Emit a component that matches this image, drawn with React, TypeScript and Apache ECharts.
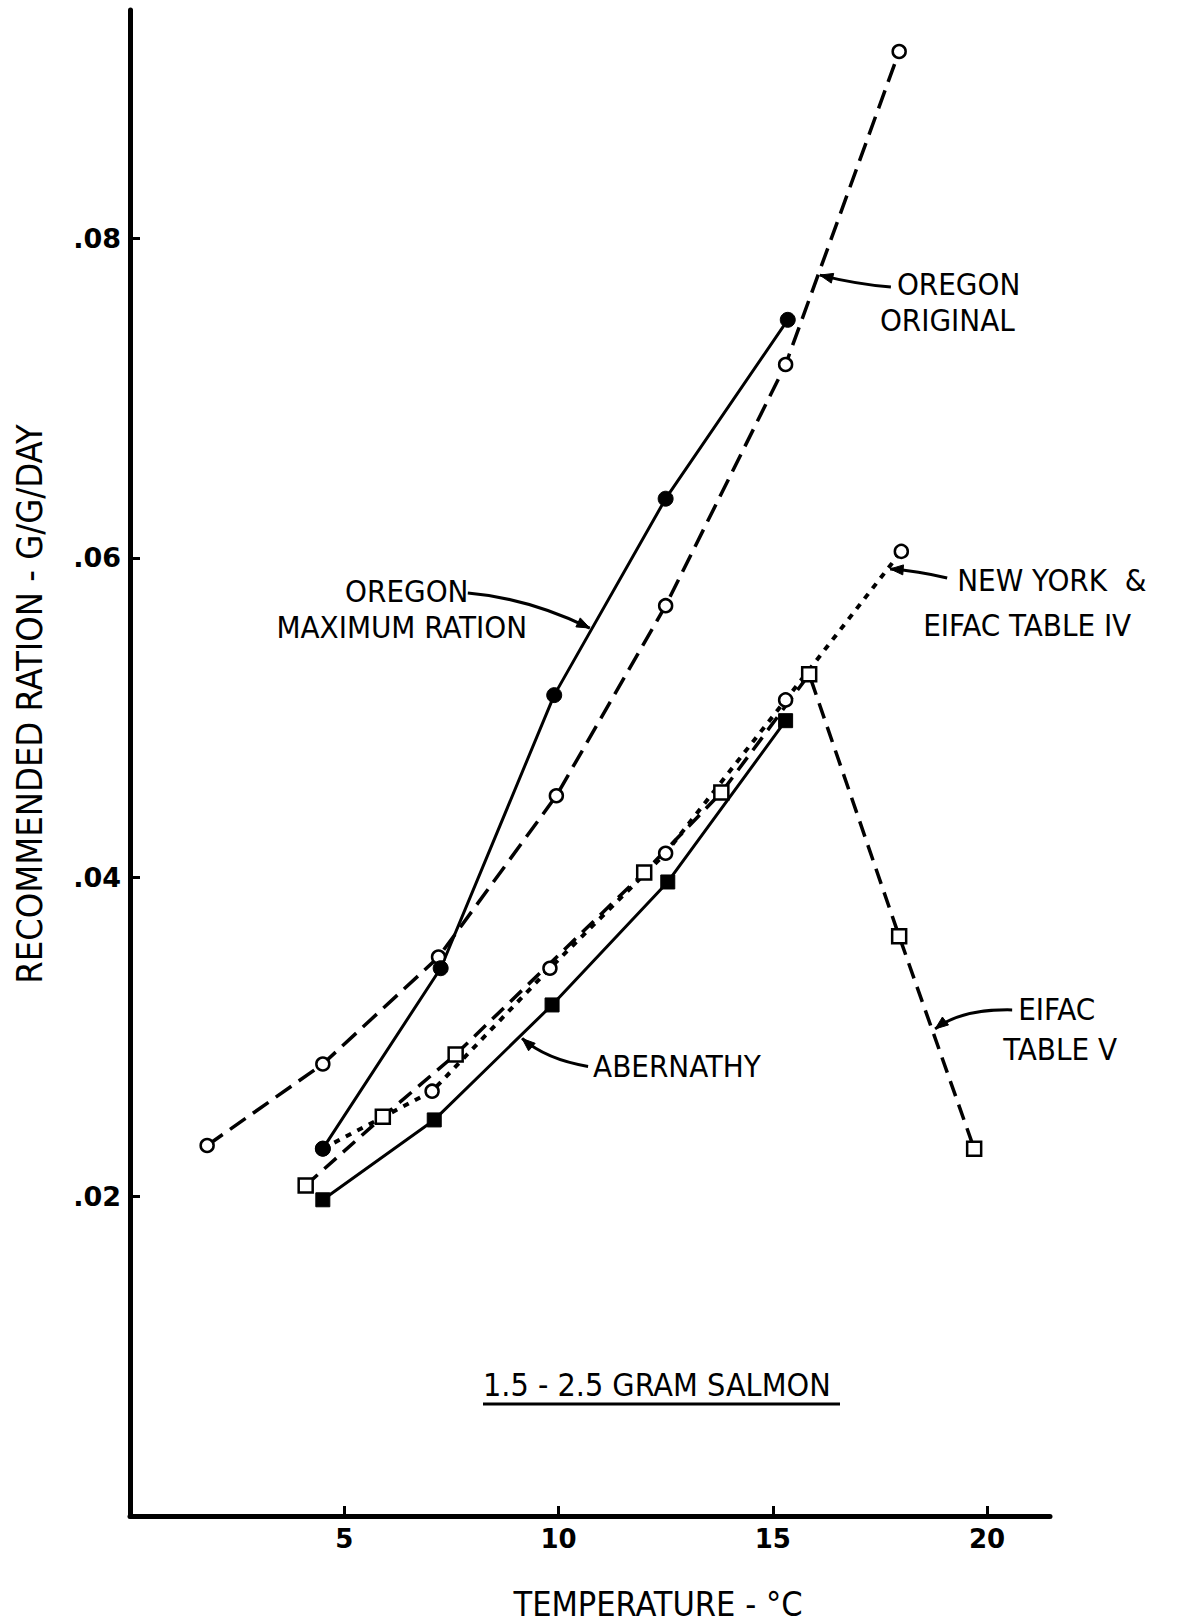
import React, { useEffect, useRef } from "react";
import * as echarts from "echarts";

// Temperature (°C) and recommended ration (g/g/day) for each feeding schedule
const oregonOriginalT = [1.8, 4.5, 7.2, 9.95, 12.5, 15.3, 17.95];
const oregonOriginalR = [0.0232, 0.0283, 0.035, 0.0451, 0.057, 0.0721, 0.0917];

const oregonMaxT = [4.5, 7.25, 9.9, 12.5, 15.35];
const oregonMaxR = [0.023, 0.0343, 0.0514, 0.0637, 0.0749];

const newYorkT = [4.5, 7.05, 9.8, 12.5, 15.3, 18.0];
const newYorkR = [0.023, 0.0266, 0.0343, 0.0415, 0.0511, 0.0604];

const eifacVT = [4.1, 5.9, 7.6, 12.0, 13.8, 15.85, 17.95, 19.7];
const eifacVR = [0.0207, 0.025, 0.0289, 0.0403, 0.0453, 0.0527, 0.0363, 0.023];

const abernathyT = [4.5, 7.1, 9.85, 12.55, 15.3];
const abernathyR = [0.0198, 0.0248, 0.032, 0.0397, 0.0498];

const xTicks = [5, 10, 15, 20];
const yTicks = [0.02, 0.04, 0.06, 0.08];

const X_TITLE = "TEMPERATURE - °C";
const Y_TITLE = "RECOMMENDED RATION - G/G/DAY";
const SUBTITLE = "1.5 - 2.5 GRAM SALMON";

const FONT = '"DejaVu Sans Condensed", "DejaVu Sans", sans-serif';
const NUM_FONT = '"DejaVu Sans", sans-serif';
const INK = "#000";

// Callouts: arrow tip sits on a curve (data coords); tail, control point and
// text lines are pixel offsets from that tip.
type Callout = {
  tip: [number, number];
  tail: [number, number];
  ctrl: [number, number];
  lines: { text: string; dx: number; dy: number; align: string }[];
};

const callouts: Callout[] = [
  {
    tip: [16.1, 0.0777],
    tail: [71, 12],
    ctrl: [36, 9],
    lines: [
      { text: "OREGON", dx: 77, dy: 9, align: "left" },
      { text: "ORIGINAL", dx: 60, dy: 45, align: "left" },
    ],
  },
  {
    tip: [10.73, 0.0556],
    tail: [-122, -35],
    ctrl: [-62, -30],
    lines: [
      { text: "OREGON", dx: -183, dy: -37, align: "center" },
      { text: "MAXIMUM RATION", dx: -188, dy: -1, align: "center" },
    ],
  },
  {
    tip: [17.74, 0.0593],
    tail: [57, 9],
    ctrl: [28, 2],
    lines: [
      { text: "NEW YORK  &", dx: 67, dy: 11, align: "left" },
      { text: "EIFAC TABLE IV", dx: 33, dy: 56, align: "left" },
    ],
  },
  {
    tip: [18.79, 0.0305],
    tail: [77, -19],
    ctrl: [26, -20],
    lines: [
      { text: "EIFAC", dx: 83, dy: -20, align: "left" },
      { text: "TABLE V", dx: 68, dy: 20, align: "left" },
    ],
  },
  {
    tip: [9.15, 0.0299],
    tail: [66, 28],
    ctrl: [24, 21],
    lines: [{ text: "ABERNATHY", dx: 71, dy: 28, align: "left" }],
  },
];

const pairs = (t: number[], r: number[]) => t.map((x, i) => [x, r[i]]);

function lineSeries(
  name: string,
  data: number[][],
  width: number,
  type: any,
  symbol: string,
  size: number,
  filled: boolean
) {
  return {
    name,
    type: "line",
    data,
    symbol,
    symbolSize: size,
    showAllSymbol: true,
    lineStyle: { color: INK, width, type },
    itemStyle: filled
      ? { color: INK, borderColor: INK, borderWidth: 1 }
      : { color: "#fff", borderColor: INK, borderWidth: 2.5 },
    emphasis: { disabled: true },
  };
}

function textEl(text: string, x: number, y: number, size: number, align: string, extra: any = {}) {
  return {
    type: "text",
    x,
    y,
    ...extra,
    style: {
      text,
      fontSize: size,
      fontFamily: FONT,
      fill: INK,
      align,
      textAlign: align,
      verticalAlign: "middle",
      textVerticalAlign: "middle",
    },
  };
}

export default function App() {
  const ref = useRef<HTMLDivElement>(null);

  useEffect(() => {
    document.body.style.margin = "0";
    if (!ref.current) return;
    const chart = echarts.init(ref.current, null, { renderer: "svg" });

    const grid = { left: 130, top: 10, width: 920, height: 1506 };

    chart.setOption({
      animation: false,
      backgroundColor: "#fff",
      grid: { ...grid, containLabel: false },
      xAxis: {
        type: "value",
        min: 0,
        max: 21.47,
        splitLine: { show: false },
        axisLine: { show: true, lineStyle: { color: INK, width: 5 } },
        axisTick: {
          show: true,
          inside: true,
          length: 10,
          customValues: xTicks,
          lineStyle: { color: INK, width: 3 },
        },
        axisLabel: {
          customValues: xTicks,
          margin: 10,
          color: INK,
          fontSize: 26,
          fontWeight: "bold",
          fontFamily: NUM_FONT,
        },
      },
      yAxis: {
        type: "value",
        min: 0,
        max: 0.0943,
        splitLine: { show: false },
        axisLine: { show: true, lineStyle: { color: INK, width: 5 } },
        axisTick: {
          show: true,
          inside: true,
          length: 10,
          customValues: yTicks,
          lineStyle: { color: INK, width: 3 },
        },
        axisLabel: {
          customValues: yTicks,
          margin: 9,
          color: INK,
          fontSize: 27,
          fontWeight: "bold",
          fontFamily: NUM_FONT,
          formatter: (v: number) => v.toFixed(2).replace(/^0/, ""),
        },
      },
      series: [
        lineSeries("Oregon original", pairs(oregonOriginalT, oregonOriginalR), 3.5, [19, 9], "circle", 13, false),
        lineSeries("EIFAC Table V", pairs(eifacVT, eifacVR), 3.5, [16, 9], "rect", 14, false),
        lineSeries("New York & EIFAC Table IV", pairs(newYorkT, newYorkR), 4, [6, 7], "circle", 13, false),
        lineSeries("Oregon maximum ration", pairs(oregonMaxT, oregonMaxR), 3, "solid", "circle", 15, true),
        lineSeries("Abernathy", pairs(abernathyT, abernathyR), 3, "solid", "rect", 14, true),
      ],
    });

    // Callouts, axis titles and the caption
    const graphics: any[] = [];
    callouts.forEach((c) => {
      const p = chart.convertToPixel({ gridIndex: 0 }, c.tip) as number[];
      const tx = p[0];
      const ty = p[1];
      const sx = tx + c.tail[0];
      const sy = ty + c.tail[1];
      const cx = tx + c.ctrl[0];
      const cy = ty + c.ctrl[1];
      graphics.push({
        type: "bezierCurve",
        shape: { x1: sx, y1: sy, x2: tx, y2: ty, cpx1: cx, cpy1: cy },
        style: { stroke: INK, lineWidth: 3, fill: null },
      });
      const dx = tx - cx;
      const dy = ty - cy;
      const len = Math.hypot(dx, dy) || 1;
      const ux = dx / len;
      const uy = dy / len;
      const hl = 13;
      const hw = 5;
      graphics.push({
        type: "polygon",
        shape: {
          points: [
            [tx, ty],
            [tx - ux * hl - uy * hw, ty - uy * hl + ux * hw],
            [tx - ux * hl + uy * hw, ty - uy * hl - ux * hw],
          ],
        },
        style: { fill: INK, stroke: INK, lineWidth: 1 },
      });
      c.lines.forEach((l) => {
        graphics.push(textEl(l.text, tx + l.dx, ty + l.dy, 31, l.align));
      });
    });

    graphics.push(textEl(Y_TITLE, 29, 704, 36, "center", { rotation: Math.PI / 2 }));
    graphics.push(textEl(X_TITLE, 658, 1604, 34, "center"));
    graphics.push(textEl(SUBTITLE, 483, 1385, 32, "left"));
    graphics.push({
      type: "line",
      shape: { x1: 483, y1: 1404, x2: 840, y2: 1404 },
      style: { stroke: INK, lineWidth: 3 },
    });

    chart.setOption({ graphic: graphics });

    return () => chart.dispose();
  }, []);

  return <div ref={ref} style={{ width: 1181, height: 1623 }} />;
}
